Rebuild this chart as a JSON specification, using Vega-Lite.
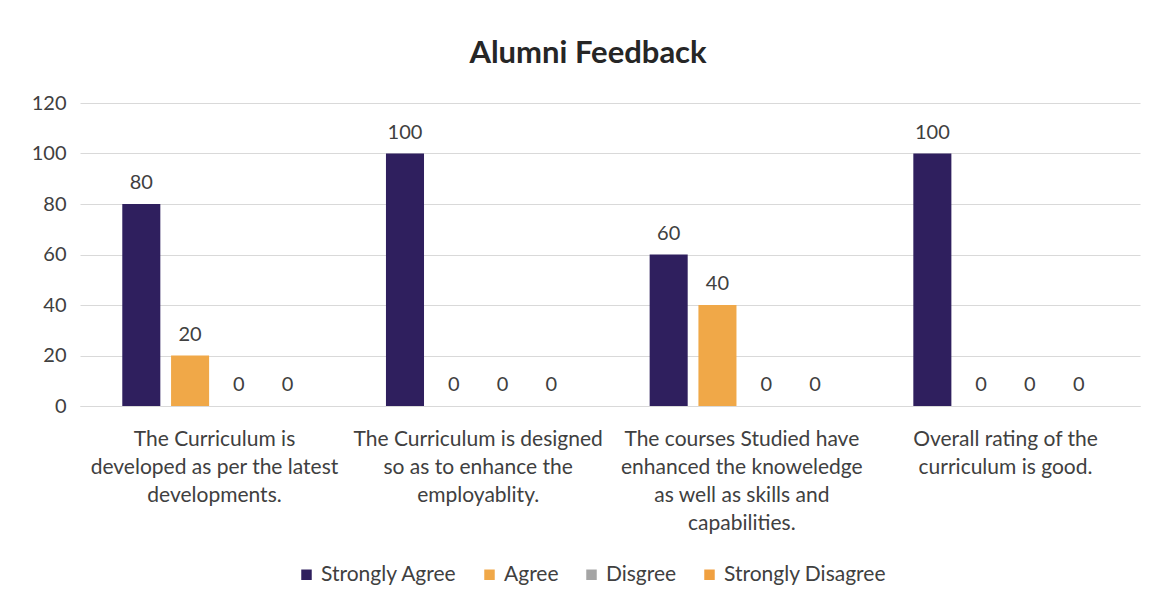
{
  "$schema": "https://vega.github.io/schema/vega-lite/v6.json",
  "autosize": "none",
  "width": 1060,
  "height": 303,
  "padding": {"left": 80, "top": 103, "right": 17, "bottom": 200},
  "background": "white",
  "title": {
    "text": "Alumni Feedback",
    "font": "Lato",
    "fontSize": 31,
    "fontWeight": "bold",
    "color": "#262626",
    "anchor": "middle",
    "frame": "group",
    "dx": -22,
    "offset": 23
  },
  "data": {
    "values": [
      {"q": "The Curriculum is developed as per the latest developments.", "s": "Strongly Agree", "v": 80},
      {"q": "The Curriculum is developed as per the latest developments.", "s": "Agree", "v": 20},
      {"q": "The Curriculum is developed as per the latest developments.", "s": "Disgree", "v": 0},
      {"q": "The Curriculum is developed as per the latest developments.", "s": "Strongly Disagree", "v": 0},
      {"q": "The Curriculum is designed so as to enhance the employablity.", "s": "Strongly Agree", "v": 100},
      {"q": "The Curriculum is designed so as to enhance the employablity.", "s": "Agree", "v": 0},
      {"q": "The Curriculum is designed so as to enhance the employablity.", "s": "Disgree", "v": 0},
      {"q": "The Curriculum is designed so as to enhance the employablity.", "s": "Strongly Disagree", "v": 0},
      {"q": "The courses Studied have enhanced the knoweledge as well as skills and capabilities.", "s": "Strongly Agree", "v": 60},
      {"q": "The courses Studied have enhanced the knoweledge as well as skills and capabilities.", "s": "Agree", "v": 40},
      {"q": "The courses Studied have enhanced the knoweledge as well as skills and capabilities.", "s": "Disgree", "v": 0},
      {"q": "The courses Studied have enhanced the knoweledge as well as skills and capabilities.", "s": "Strongly Disagree", "v": 0},
      {"q": "Overall rating of the curriculum is good.", "s": "Strongly Agree", "v": 100},
      {"q": "Overall rating of the curriculum is good.", "s": "Agree", "v": 0},
      {"q": "Overall rating of the curriculum is good.", "s": "Disgree", "v": 0},
      {"q": "Overall rating of the curriculum is good.", "s": "Strongly Disagree", "v": 0}
    ]
  },
  "encoding": {
    "x": {
      "field": "q",
      "type": "nominal",
      "sort": null,
      "scale": {"paddingInner": 0.26, "paddingOuter": 0.14},
      "axis": {
        "title": null,
        "labelAngle": 0,
        "labelFont": "Lato",
        "labelFontSize": 21,
        "labelColor": "#404040",
        "labelPadding": 22,
        "labelLineHeight": 28,
        "labelBaseline": "top",
        "labelLimit": 400,
        "ticks": false,
        "domainColor": "#d9d9d9",
        "labelExpr": "indexof(datum.value, 'developed') >= 0 ? ['The Curriculum is', 'developed as per the latest', 'developments.'] : indexof(datum.value, 'designed') >= 0 ? ['The Curriculum is designed', 'so as to enhance the', 'employablity.'] : indexof(datum.value, 'courses') >= 0 ? ['The courses Studied have', 'enhanced the knoweledge', 'as well as skills and', 'capabilities.'] : ['Overall rating of the', 'curriculum is good.']"
      }
    },
    "xOffset": {
      "field": "s",
      "type": "nominal",
      "sort": ["Strongly Agree", "Agree", "Disgree", "Strongly Disagree"],
      "scale": {"paddingInner": 0.22, "paddingOuter": 0.11}
    },
    "y": {
      "field": "v",
      "type": "quantitative",
      "scale": {"domain": [0, 120]},
      "axis": {
        "title": null,
        "values": [0, 20, 40, 60, 80, 100, 120],
        "labelFont": "Lato",
        "labelFontSize": 20,
        "labelColor": "#404040",
        "labelPadding": 14,
        "ticks": false,
        "domain": false,
        "gridColor": "#d9d9d9",
        "gridWidth": 1
      }
    }
  },
  "layer": [
    {
      "mark": {"type": "bar"},
      "encoding": {
        "color": {
          "field": "s",
          "type": "nominal",
          "sort": ["Strongly Agree", "Agree", "Disgree", "Strongly Disagree"],
          "scale": {
            "domain": ["Strongly Agree", "Agree", "Disgree", "Strongly Disagree"],
            "range": ["#2F1F5E", "#F0A848", "#A5A5A5", "#F0A040"]
          },
          "legend": {
            "title": null,
            "orient": "none",
            "direction": "horizontal",
            "legendX": 216,
            "legendY": 461,
            "symbolType": "square",
            "symbolSize": 110,
            "symbolStrokeWidth": 0,
            "labelFont": "Lato",
            "labelFontSize": 21,
            "labelColor": "#404040",
            "labelLimit": 300,
            "columnPadding": 22,
            "labelOffset": 4
          }
        }
      }
    },
    {
      "mark": {"type": "text", "baseline": "bottom", "dy": -11, "font": "Lato", "fontSize": 20, "color": "#404040"},
      "encoding": {"text": {"field": "v", "type": "quantitative"}}
    }
  ],
  "config": {"view": {"stroke": null}}
}
